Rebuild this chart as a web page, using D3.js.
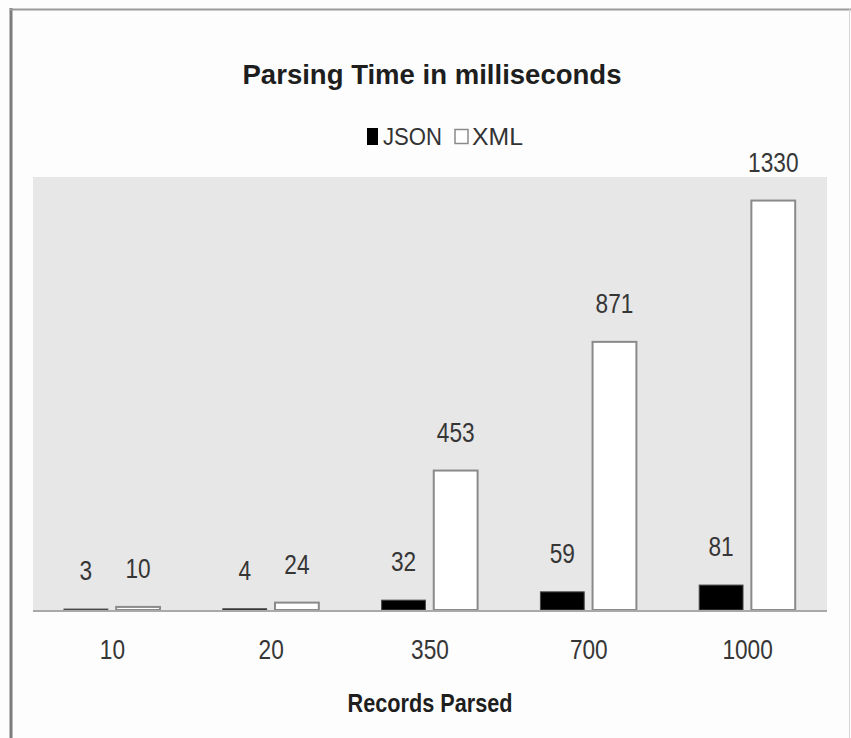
<!DOCTYPE html>
<html>
<head>
<meta charset="utf-8">
<script src="https://cdn.jsdelivr.net/npm/d3@7"></script>
<style>
  html, body { margin: 0; padding: 0; background: #ffffff; }
  svg { display: block; }
</style>
</head>
<body>
<script>
// Parsing time (ms) by number of records parsed
const categories = ["10", "20", "350", "700", "1000"];
const seriesNames = ["JSON", "XML"];
const jsonValues = [3, 4, 32, 59, 81];
const xmlValues = [10, 24, 453, 871, 1330];
const valueAxisExtent = [0, 1400];

const W = 851, H = 738;
const plot = { left: 33, right: 827, top: 177, bottom: 610 };
const FONT = "'Liberation Sans Narrow', 'Liberation Sans', 'DejaVu Sans Condensed', sans-serif";
const NARROW = 0.84; // horizontal squeeze for the condensed number labels

const seriesStyle = {
  JSON: { fill: "#000000", stroke: "#4a4a4a" },
  XML:  { fill: "#ffffff", stroke: "#8a8a8a" }
};

const rows = categories.map((c, i) => ({
  category: c,
  values: [
    { series: "JSON", value: jsonValues[i] },
    { series: "XML", value: xmlValues[i] }
  ]
}));

const svg = d3.select("body").append("svg")
  .attr("width", W).attr("height", H);

// page background and outer frame
svg.append("rect").attr("width", W).attr("height", H).attr("fill", "#fdfdfd");
svg.append("line").attr("x1", 11).attr("x2", 11).attr("y1", 8).attr("y2", H)
  .attr("stroke", "#7d7d7d").attr("stroke-width", 3);
svg.append("line").attr("x1", 10).attr("x2", W).attr("y1", 9.5).attr("y2", 9.5)
  .attr("stroke", "#9a9a9a").attr("stroke-width", 2);
svg.append("line").attr("x1", 849.5).attr("x2", 849.5).attr("y1", 9).attr("y2", H)
  .attr("stroke", "#d6d6d6").attr("stroke-width", 1);

// plot area background
svg.append("rect")
  .attr("x", plot.left).attr("y", plot.top)
  .attr("width", plot.right - plot.left).attr("height", plot.bottom - plot.top)
  .attr("fill", "#e7e7e7");

const x0 = d3.scaleBand().domain(categories).range([plot.left, plot.right]);
const x1 = d3.scaleBand().domain(seriesNames).range([31, 127]).paddingInner(0.16);
const y = d3.scaleLinear().domain(valueAxisExtent).range([plot.bottom, 179]);

// bars
const groups = svg.append("g").selectAll("g")
  .data(rows).join("g")
  .attr("transform", d => `translate(${x0(d.category)},0)`);

groups.selectAll("rect")
  .data(d => d.values).join("rect")
  .attr("x", d => x1(d.series))
  .attr("y", d => y(d.value))
  .attr("width", x1.bandwidth())
  .attr("height", d => y(0) - y(d.value))
  .attr("fill", d => seriesStyle[d.series].fill)
  .attr("stroke", d => seriesStyle[d.series].stroke)
  .attr("stroke-width", d => d.series === "XML" ? 2 : 1);

// value labels
groups.selectAll("text.value")
  .data(d => d.values).join("text")
  .attr("class", "value")
  .attr("transform", d =>
    `translate(${x1(d.series) + x1.bandwidth() / 2},${y(d.value) - 29}) scale(${NARROW},1)`)
  .attr("text-anchor", "middle")
  .attr("font-family", FONT)
  .attr("font-size", 27)
  .attr("fill", "#363636")
  .text(d => d.value);

// category axis baseline
svg.append("line")
  .attr("x1", plot.left).attr("x2", plot.right)
  .attr("y1", plot.bottom + 1).attr("y2", plot.bottom + 1)
  .attr("stroke", "#a9a9a9").attr("stroke-width", 2);

// category axis labels
const xAxis = svg.append("g")
  .attr("transform", `translate(0,${plot.bottom})`)
  .call(d3.axisBottom(x0).tickSize(0).tickPadding(0));
xAxis.select(".domain").remove();
xAxis.selectAll("text")
  .attr("dy", null)
  .attr("y", 49)
  .attr("transform", `scale(${NARROW},1)`)
  .attr("font-family", FONT)
  .attr("font-size", 27)
  .attr("fill", "#363636");

// title
svg.append("text")
  .attr("x", 432).attr("y", 84)
  .attr("text-anchor", "middle")
  .attr("font-family", FONT)
  .attr("font-weight", "bold")
  .attr("font-size", 28)
  .attr("fill", "#1e1e1e")
  .attr("textLength", 379).attr("lengthAdjust", "spacingAndGlyphs")
  .text("Parsing Time in milliseconds");

// legend
const legend = svg.append("g");
const legendItems = [
  { series: "JSON", keyX: 367, keyW: 11, textX: 383, textLen: 59 },
  { series: "XML", keyX: 455, keyW: 13, textX: 472, textLen: 51 }
];
legendItems.forEach(item => {
  const st = seriesStyle[item.series];
  legend.append("rect")
    .attr("x", item.keyX).attr("y", item.series === "JSON" ? 128 : 129.5)
    .attr("width", item.keyW).attr("height", item.series === "JSON" ? 17 : 14)
    .attr("fill", st.fill)
    .attr("stroke", item.series === "JSON" ? "none" : st.stroke)
    .attr("stroke-width", 1.5);
  legend.append("text")
    .attr("x", item.textX).attr("y", 145)
    .attr("font-family", FONT)
    .attr("font-size", 24)
    .attr("fill", "#333333")
    .attr("textLength", item.textLen).attr("lengthAdjust", "spacingAndGlyphs")
    .text(item.series);
});

// category axis title
svg.append("text")
  .attr("x", 430).attr("y", 712)
  .attr("text-anchor", "middle")
  .attr("font-family", FONT)
  .attr("font-weight", "bold")
  .attr("font-size", 26)
  .attr("fill", "#1e1e1e")
  .attr("textLength", 165).attr("lengthAdjust", "spacingAndGlyphs")
  .text("Records Parsed");
</script>
</body>
</html>
